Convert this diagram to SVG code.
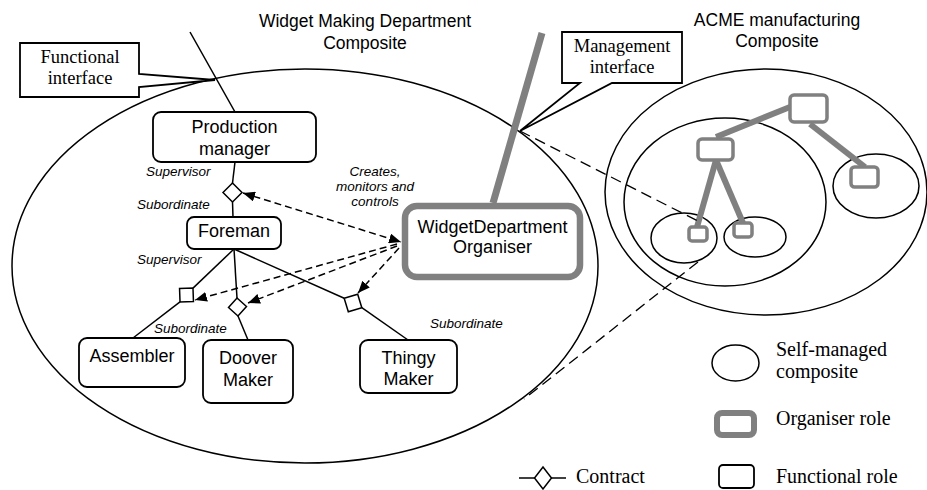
<svg xmlns="http://www.w3.org/2000/svg" width="927" height="490" viewBox="0 0 927 490">
<defs>
<style>
.sans{font-family:"Liberation Sans",Arial,sans-serif;fill:#000}
.serif{font-family:"Liberation Serif","Times New Roman",serif;fill:#000}
.node{fill:#fff;stroke:#000;stroke-width:1.8}
.org{fill:#fff;stroke:#808080}
.comp{fill:none;stroke:#000;stroke-width:1.5}
.ln{fill:none;stroke:#000;stroke-width:1.5}
.gline{stroke:#808080;stroke-linecap:butt}
.dash{fill:none;stroke:#000;stroke-width:1.5;stroke-dasharray:7 4}
.ldash{fill:none;stroke:#000;stroke-width:1.3;stroke-dasharray:11 6}
.contract{fill:#fff;stroke:#000;stroke-width:1.5}
.lbl{font-size:13.5px;font-style:italic}
.nt{font-size:18px;text-anchor:middle}
</style>
<marker id="ah" viewBox="0 0 12 10" refX="12" refY="5" markerWidth="12" markerHeight="10" markerUnits="userSpaceOnUse" orient="auto-start-reverse">
<path d="M0,0 L12,5 L0,10 Z" fill="#000"/>
</marker>
</defs>
<rect width="927" height="490" fill="#fff"/>

<!-- Titles -->
<text class="sans" x="365" y="27" font-size="17.5" text-anchor="middle">Widget Making Department</text>
<text class="sans" x="365" y="49" font-size="17.5" text-anchor="middle">Composite</text>
<text class="sans" x="777" y="26" font-size="17.5" text-anchor="middle">ACME manufacturing</text>
<text class="sans" x="777" y="47" font-size="17.5" text-anchor="middle">Composite</text>

<!-- Composites -->
<g id="widget-composite">
<ellipse class="comp" cx="305" cy="266" rx="293" ry="197"/>
</g>
<g id="acme-composite">
<ellipse class="comp" cx="766" cy="192" rx="161" ry="123"/>
<ellipse class="comp" cx="725" cy="202" rx="101" ry="84"/>
<ellipse class="comp" cx="876" cy="186" rx="43" ry="32"/>
<ellipse class="comp" cx="684" cy="238" rx="33" ry="25"/>
<ellipse class="comp" cx="755" cy="237" rx="31" ry="20"/>
<g id="acme-links">
<line class="gline" stroke-width="6" x1="790" y1="107" x2="716" y2="137"/>
<line class="gline" stroke-width="6" x1="810" y1="124" x2="865" y2="167"/>
<line class="gline" stroke-width="6" x1="716" y1="160" x2="697" y2="227"/>
<line class="gline" stroke-width="6" x1="716" y1="160" x2="743" y2="223"/>
</g>
<rect class="org" stroke-width="3.5" x="790" y="95" width="37" height="27" rx="4"/>
<rect class="org" stroke-width="3.5" x="698" y="139" width="35" height="21" rx="4"/>
<rect class="org" stroke-width="3.5" x="851" y="167" width="27" height="20" rx="3.5"/>
<rect class="org" stroke-width="3.5" x="689" y="227" width="18" height="14" rx="3"/>
<rect class="org" stroke-width="3.5" x="734" y="223" width="18" height="14" rx="3"/>
</g>

<!-- Connectors -->
<g id="connectors">
<line class="ln" x1="190" y1="32" x2="235" y2="112"/>
<line class="gline" stroke-width="7" x1="542" y1="33" x2="493" y2="203"/>
<line class="ln" x1="235" y1="162" x2="232.5" y2="183"/>
<line class="ln" x1="232.5" y1="202" x2="233" y2="217"/>
<line class="ln" x1="234" y1="249" x2="193" y2="288.1"/>
<line class="ln" x1="180" y1="301.9" x2="133" y2="338"/>
<line class="ln" x1="234" y1="249" x2="237" y2="298"/>
<line class="ln" x1="238" y1="316" x2="248" y2="340"/>
<line class="ln" x1="234" y1="249" x2="344.2" y2="298.3"/>
<line class="ln" x1="361.8" y1="307.7" x2="408" y2="340"/>
<line class="dash" x1="243" y1="193" x2="401" y2="242" marker-start="url(#ah)" marker-end="url(#ah)"/>
<line class="dash" x1="397" y1="244" x2="195" y2="300" marker-end="url(#ah)"/>
<line class="dash" x1="397" y1="246" x2="248" y2="303" marker-end="url(#ah)"/>
<line class="dash" x1="399" y1="248" x2="358" y2="293" marker-end="url(#ah)"/>
<line class="ldash" x1="520" y1="131" x2="698" y2="221"/>
<line class="ldash" x1="698" y1="262" x2="524" y2="399"/>
</g>

<!-- Contracts -->
<g id="contracts">
<polygon class="contract" points="232.5,183 242,192.5 232.5,202 223,192.5"/>
<polygon class="contract" points="192.98,288.05 193.45,301.48 180.02,301.95 179.55,288.52"/>
<polygon class="contract" points="237.03,298.01 246.49,306.53 237.97,315.99 228.51,307.47"/>
<polygon class="contract" points="344.17,298.31 357.69,294.17 361.83,307.69 348.31,311.83"/>
</g>

<!-- Callouts -->
<g id="functional-interface">
<path class="node" stroke-width="1.5" d="M20,43 H139 V74 L215,80 L139,87 V97 H20 Z"/>
<text class="serif" x="80" y="63" font-size="18.5" text-anchor="middle">Functional</text>
<text class="serif" x="80" y="84" font-size="18.5" text-anchor="middle">interface</text>
</g>
<g id="management-interface">
<path class="node" stroke-width="1.5" d="M562,32 H682 V83 H612 L520,131 L580,83 H562 Z"/>
<text class="serif" x="622" y="52" font-size="18.5" text-anchor="middle">Management</text>
<text class="serif" x="622" y="73" font-size="18.5" text-anchor="middle">interface</text>
</g>

<!-- Nodes -->
<g id="production-manager">
<rect class="node" x="153" y="112" width="163" height="50" rx="8"/>
<text class="sans nt" x="234.5" y="133">Production</text>
<text class="sans nt" x="234.5" y="155">manager</text>
</g>
<g id="foreman">
<rect class="node" x="187" y="217" width="94" height="32" rx="7"/>
<text class="sans nt" x="234" y="237">Foreman</text>
</g>
<g id="assembler">
<rect class="node" x="79" y="338" width="106" height="49" rx="8"/>
<text class="sans nt" x="132" y="362">Assembler</text>
</g>
<g id="doover-maker">
<rect class="node" x="203" y="340" width="90" height="63" rx="8"/>
<text class="sans nt" x="248" y="364">Doover</text>
<text class="sans nt" x="248" y="386">Maker</text>
</g>
<g id="thingy-maker">
<rect class="node" x="360" y="340" width="97" height="53" rx="8"/>
<text class="sans nt" x="408.5" y="364">Thingy</text>
<text class="sans nt" x="408.5" y="385">Maker</text>
</g>
<g id="widget-department-organiser">
<rect class="org" stroke-width="6.5" x="405" y="206" width="175" height="71" rx="12"/>
<text class="sans nt" x="492.5" y="233">WidgetDepartment</text>
<text class="sans nt" x="492.5" y="253">Organiser</text>
</g>

<!-- Role labels -->
<g id="labels">
<text class="sans lbl" x="146" y="176">Supervisor</text>
<text class="sans lbl" x="137" y="209">Subordinate</text>
<text class="sans lbl" x="137" y="264">Supervisor</text>
<text class="sans lbl" x="154" y="333">Subordinate</text>
<text class="sans lbl" x="430" y="328">Subordinate</text>
<text class="sans lbl" x="375" y="176" text-anchor="middle">Creates,</text>
<text class="sans lbl" x="375" y="191" text-anchor="middle">monitors and</text>
<text class="sans lbl" x="375" y="206" text-anchor="middle">controls</text>
</g>

<!-- Legend -->
<g id="legend">
<ellipse class="comp" cx="735.5" cy="363" rx="23.5" ry="18"/>
<text class="serif" x="776" y="356" font-size="20">Self-managed</text>
<text class="serif" x="776" y="378" font-size="20">composite</text>
<rect class="org" stroke-width="6" x="717" y="413" width="37" height="22" rx="5"/>
<text class="serif" x="776" y="425" font-size="20">Organiser role</text>
<rect class="node" stroke-width="2.2" x="719" y="465" width="35" height="23" rx="4"/>
<text class="serif" x="776" y="483" font-size="20">Functional role</text>
<line class="ln" x1="519" y1="478" x2="566" y2="478"/>
<polygon class="contract" points="543,467 551.5,478 543,489 534.5,478"/>
<text class="serif" x="576" y="483" font-size="20">Contract</text>
</g>
</svg>
